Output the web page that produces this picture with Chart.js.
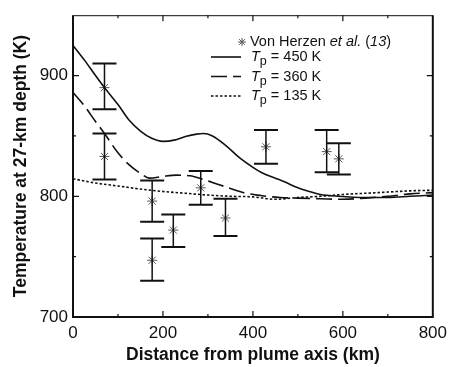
<!DOCTYPE html>
<html>
<head>
<meta charset="utf-8">
<script src="https://cdn.jsdelivr.net/npm/chart.js@4"></script>
<style>
  html, body { margin: 0; padding: 0; background: #fff; }
  #wrap { width: 453px; height: 367px; }
</style>
</head>
<body>
<div id="wrap"><canvas id="tempChart" width="453" height="367"></canvas></div>
<script>
// Observed data (Von Herzen et al.)
const obsX  = [70, 70, 176, 176, 223, 284, 339, 429, 564, 591];
const obsY  = [890, 833, 796, 747, 772, 807, 782, 841, 837, 831];
const obsLo = [872, 814, 779, 730, 758, 793, 767, 827, 820, 818];
const obsHi = [910, 852, 813, 765, 785, 821, 798, 855, 855, 844];

// Model curves
const x450 = [0, 25, 50, 70, 100, 125, 150, 175, 200, 225, 250, 275, 290, 310, 340, 370, 400, 420, 450, 470, 500, 520, 550, 590, 650, 700, 750, 800];
const y450 = [925, 913, 900, 890, 876, 863, 854, 848, 845.5, 846.5, 849.5, 851.5, 852, 850, 842, 832, 824, 819.5, 815, 812, 807, 804.5, 801.5, 800, 799, 799, 800, 801];

const x360 = [0, 25, 50, 70, 100, 125, 150, 170, 200, 230, 260, 290, 310, 350, 380, 420, 460, 500, 550, 600, 650, 700, 750, 800];
const y360 = [886, 875, 862, 852, 836, 826, 819, 815, 816.5, 817.5, 817, 814, 811.5, 806.5, 803, 800.5, 799, 798.5, 798, 797.5, 798.5, 800, 802, 803];

const x135 = [0, 50, 100, 150, 200, 250, 300, 350, 400, 450, 500, 550, 600, 650, 700, 750, 800];
const y135 = [814.5, 811, 808.5, 806, 804, 802.5, 801, 800, 799.5, 797.5, 799, 800, 801.5, 802.5, 803.5, 804.5, 805];

const xTicks = [0, 200, 400, 600, 800];
const yTicks = [700, 800, 900];

function toPoints(xs, ys) {
    return xs.map((x, i) => ({ x: x, y: ys[i] }));
}

const INK = '#111';
const FONT = '"Liberation Sans", Arial, sans-serif';

// frame, inward ticks, error bars and the legend
const decorPlugin = {
    id: 'decor',
    afterDatasetsDraw(chart) {
        const ctx = chart.ctx;
        const xs = chart.scales.x;
        const ys = chart.scales.y;
        const a = chart.chartArea;

        ctx.save();
        ctx.strokeStyle = INK;

        // error bars
        obsX.forEach((x, i) => {
            const px = xs.getPixelForValue(x);
            const pLo = ys.getPixelForValue(obsLo[i]);
            const pHi = ys.getPixelForValue(obsHi[i]);
            ctx.lineWidth = 1.5;
            ctx.beginPath();
            ctx.moveTo(px, pLo);
            ctx.lineTo(px, pHi);
            ctx.stroke();
            ctx.lineWidth = 2;
            ctx.beginPath();
            ctx.moveTo(px - 12, pLo); ctx.lineTo(px + 12, pLo);
            ctx.moveTo(px - 12, pHi); ctx.lineTo(px + 12, pHi);
            ctx.stroke();
        });

        // frame
        ctx.lineWidth = 2;
        ctx.beginPath();
        ctx.moveTo(a.left, a.top);
        ctx.lineTo(a.left, a.bottom);
        ctx.lineTo(a.right, a.bottom);
        ctx.lineTo(a.right, a.top);
        ctx.stroke();
        ctx.lineWidth = 1;
        ctx.beginPath();
        ctx.moveTo(a.left, a.top + 0.5);
        ctx.lineTo(a.right, a.top + 0.5);
        ctx.stroke();

        // inward ticks
        ctx.lineWidth = 1.2;
        ctx.beginPath();
        for (let v = 100; v < 800; v += 100) {
            const px = xs.getPixelForValue(v);
            const len = v % 200 === 0 ? 6 : 3;
            ctx.moveTo(px, a.bottom); ctx.lineTo(px, a.bottom - len);
            ctx.moveTo(px, a.top); ctx.lineTo(px, a.top + len);
        }
        for (let v = 750; v < 950; v += 50) {
            const py = ys.getPixelForValue(v);
            const len = v % 100 === 0 ? 6 : 3;
            ctx.moveTo(a.left, py); ctx.lineTo(a.left + len, py);
            ctx.moveTo(a.right, py); ctx.lineTo(a.right - len, py);
        }
        ctx.stroke();

        // legend
        const fs = 14.5;
        const reg = fs + 'px ' + FONT;
        const ital = 'italic ' + reg;
        ctx.fillStyle = INK;
        ctx.textBaseline = 'middle';
        ctx.textAlign = 'left';

        function runs(parts, x, y) {
            parts.forEach(p => {
                ctx.font = p[1];
                ctx.fillText(p[0], x, y + (p[2] || 0));
                x += ctx.measureText(p[0]).width;
            });
        }

        // star row
        const sx = 242, sy = 42;
        ctx.lineWidth = 1;
        ctx.strokeStyle = '#555';
        ctx.beginPath();
        for (let k = 0; k < 4; k++) {
            const ang = k * Math.PI / 4;
            ctx.moveTo(sx - 4 * Math.cos(ang), sy - 4 * Math.sin(ang));
            ctx.lineTo(sx + 4 * Math.cos(ang), sy + 4 * Math.sin(ang));
        }
        ctx.stroke();
        runs([['Von Herzen ', reg], ['et al.', ital], [' (', reg], ['13', ital], [')', reg]], 250, sy);

        const rows = [
            { y: 57, dash: [], label: '= 450 K' },
            { y: 76.5, dash: [16, 6], label: '= 360 K' },
            { y: 96, dash: [2.5, 2], label: '= 135 K' }
        ];
        const subFont = (fs - 2) + 'px ' + FONT;
        rows.forEach(r => {
            ctx.strokeStyle = INK;
            ctx.lineWidth = 1.6;
            ctx.setLineDash(r.dash);
            ctx.beginPath();
            ctx.moveTo(211, r.y);
            ctx.lineTo(241, r.y);
            ctx.stroke();
            ctx.setLineDash([]);
            runs([['T', ital], ['p', subFont, 5], [' ' + r.label, reg]], 251, r.y);
        });

        ctx.restore();
    }
};

const lineBase = {
    showLine: true,
    borderColor: INK,
    borderWidth: 1.6,
    pointRadius: 0,
    fill: false,
    tension: 0.4,
    cubicInterpolationMode: 'monotone'
};

new Chart(document.getElementById('tempChart'), {
    type: 'scatter',
    data: {
        datasets: [
            Object.assign({}, lineBase, { label: 'Tp = 450 K', data: toPoints(x450, y450) }),
            Object.assign({}, lineBase, { label: 'Tp = 360 K', data: toPoints(x360, y360), borderDash: [16, 6] }),
            Object.assign({}, lineBase, { label: 'Tp = 135 K', data: toPoints(x135, y135), borderDash: [2.5, 2] }),
            {
                label: 'Von Herzen et al. (13)',
                data: toPoints(obsX, obsY),
                pointStyle: 'star',
                pointRadius: 5,
                borderColor: '#555',
                borderWidth: 1,
                backgroundColor: '#555',
                showLine: false
            }
        ]
    },
    options: {
        responsive: false,
        animation: false,
        devicePixelRatio: 1,
        layout: { padding: { top: 12, right: 17, left: 0, bottom: 0 } },
        plugins: { legend: { display: false }, tooltip: { enabled: false } },
        scales: {
            x: {
                type: 'linear',
                min: 0,
                max: 800,
                grid: { display: false, drawTicks: false },
                border: { display: false },
                afterFit(scale) { scale.height = 50; },
                afterBuildTicks(scale) { scale.ticks = xTicks.map(v => ({ value: v })); },
                ticks: {
                    padding: 6,
                    color: INK,
                    font: { family: FONT, size: 17 }
                },
                title: {
                    display: true,
                    text: 'Distance from plume axis (km)',
                    color: INK,
                    font: { family: FONT, size: 17.5, weight: 'bold' },
                    padding: { top: 0, bottom: 1 }
                }
            },
            y: {
                type: 'linear',
                min: 700,
                max: 950,
                grid: { display: false, drawTicks: false },
                border: { display: false },
                afterFit(scale) { scale.width = 73; },
                afterBuildTicks(scale) { scale.ticks = yTicks.map(v => ({ value: v })); },
                ticks: {
                    padding: 5,
                    color: INK,
                    font: { family: FONT, size: 17 }
                },
                title: {
                    display: true,
                    text: 'Temperature at 27-km depth (K)',
                    color: INK,
                    font: { family: FONT, size: 17.5, weight: 'bold' },
                    padding: { top: 11, bottom: 0 }
                }
            }
        }
    },
    plugins: [decorPlugin]
});
</script>
</body>
</html>
